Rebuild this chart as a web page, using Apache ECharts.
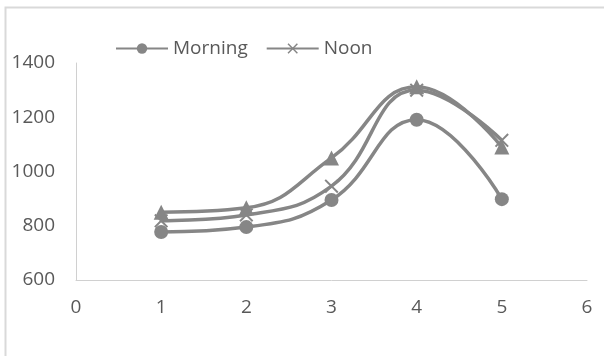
<!DOCTYPE html>
<html>
<head>
<meta charset="utf-8">
<script src="https://cdn.jsdelivr.net/npm/echarts@6/dist/echarts.min.js"></script>
<style>
  html, body { margin: 0; padding: 0; background: #fff; }
  #chart { width: 604px; height: 356px; }
</style>
</head>
<body>
<div id="chart"></div>
<script>
// Readings taken at five sampling points
const xPoints = [1, 2, 3, 4, 5];
const morning = [777, 795, 895, 1191, 898];
const noon = [818, 840, 946, 1300, 1115];
const evening = [850, 866, 1050, 1312, 1090];
const yTicks = { min: 600, max: 1400, step: 200 };
const xTicks = { min: 0, max: 6, step: 1 };

const grey = '#868686';
const textGrey = '#595959';
const axisGrey = '#d0d0d0';
const crossPath = 'path://M0,1L1,0L5,4L9,0L10,1L6,5L10,9L9,10L5,6L1,10L0,9L4,5Z';

const pairs = vals => xPoints.map((x, i) => [x, vals[i]]);

const chart = echarts.init(document.getElementById('chart'), null, { renderer: 'canvas' });

function seriesOf(name, vals, symbol, size) {
  return {
    name: name,
    type: 'line',
    data: pairs(vals),
    smooth: 0.45,
    symbol: symbol,
    symbolSize: size,
    showAllSymbol: true,
    lineStyle: { color: grey, width: 3.5 },
    itemStyle: { color: grey },
    emphasis: { disabled: true },
    z: 3
  };
}

chart.setOption({
  animation: false,
  backgroundColor: '#fff',
  textStyle: { fontFamily: 'Open Sans, Lato, sans-serif' },
  graphic: [{
    type: 'rect',
    shape: { x: 5.5, y: 7.5, width: 700, height: 500 },
    style: { fill: 'none', stroke: '#d9d9d9', lineWidth: 2 },
    silent: true
  }],
  legend: {
    data: ['Morning', 'Noon'],
    left: 110,
    top: 34,
    itemWidth: 52,
    itemHeight: 13,
    itemGap: 18,
    textStyle: { color: textGrey, fontSize: 19, fontFamily: 'Open Sans, sans-serif' }
  },
  grid: { left: 76, right: 17, top: 63, bottom: 76, containLabel: false },
  xAxis: {
    type: 'value',
    min: xTicks.min, max: xTicks.max, interval: xTicks.step,
    axisLine: { lineStyle: { color: axisGrey, width: 1 } },
    axisTick: { show: false },
    splitLine: { show: false },
    axisLabel: { color: textGrey, fontSize: 19, margin: 18 }
  },
  yAxis: {
    type: 'value',
    min: yTicks.min, max: yTicks.max, interval: yTicks.step,
    axisLine: { show: true, lineStyle: { color: axisGrey, width: 1 } },
    axisTick: { show: false },
    splitLine: { show: false },
    axisLabel: { color: textGrey, fontSize: 19, margin: 21, formatter: v => String(v) }
  },
  series: [
    seriesOf('Morning', morning, 'circle', 14),
    seriesOf('Noon', noon, crossPath, 14),
    seriesOf('Evening', evening, 'triangle', 15)
  ]
});
</script>
</body>
</html>
